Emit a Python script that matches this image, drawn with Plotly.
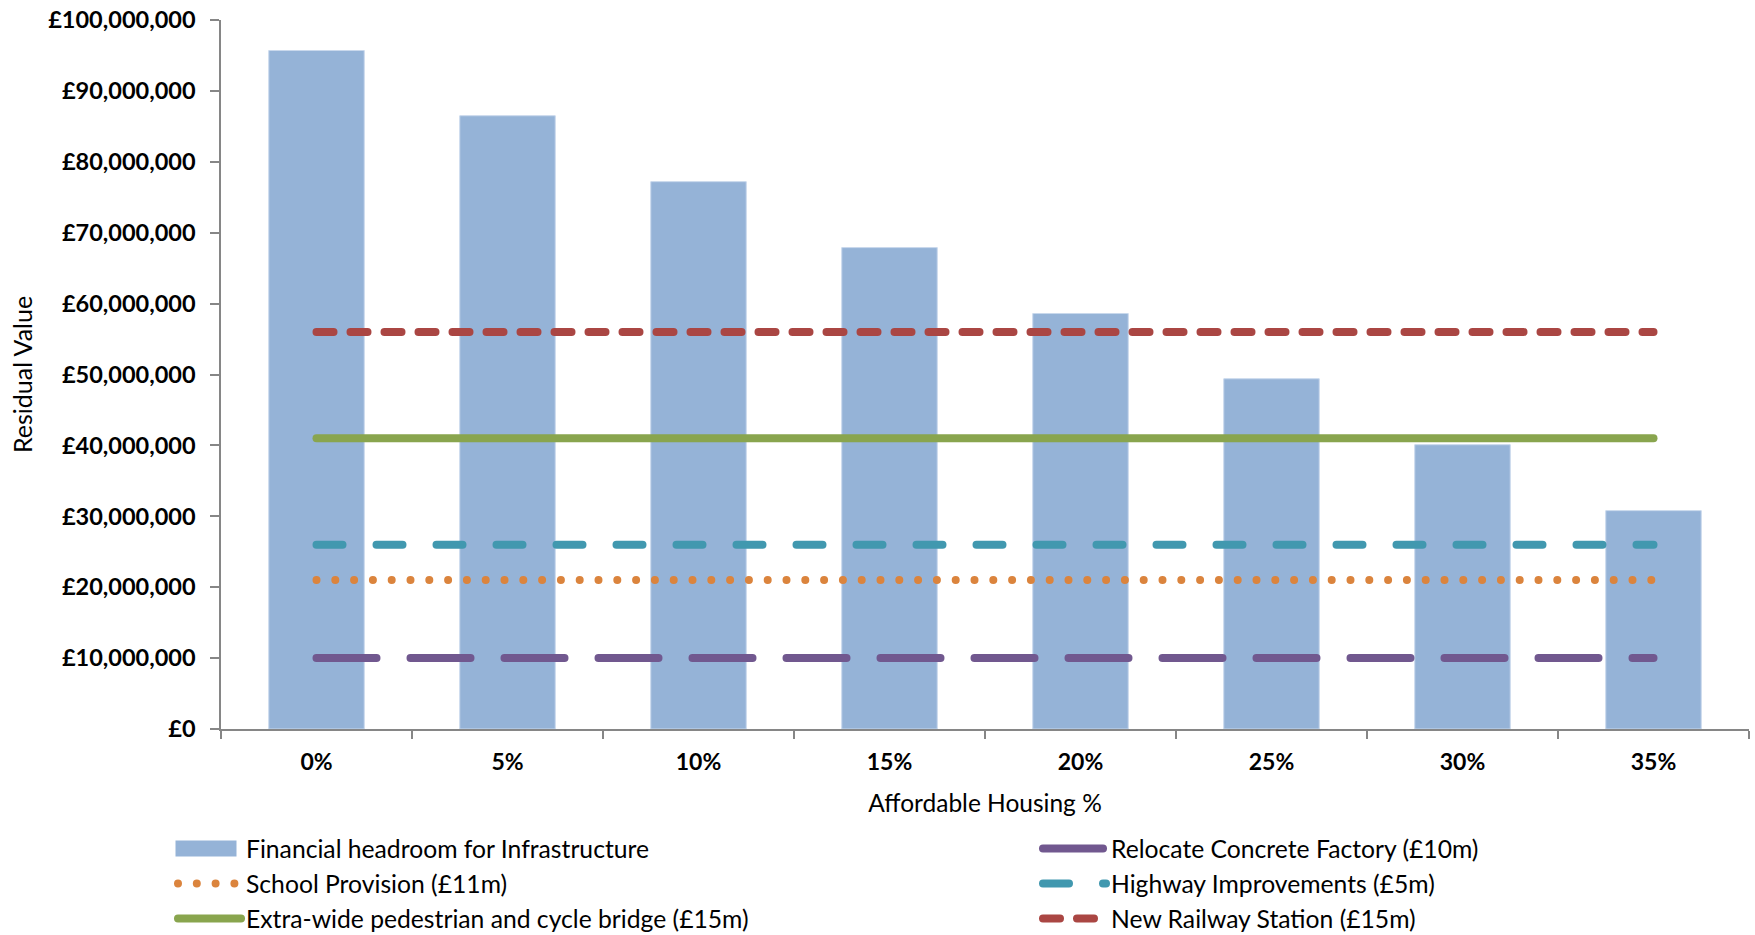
import plotly.graph_objects as go

categories = ["0%", "5%", "10%", "15%", "20%", "25%", "30%", "35%"]
headroom = [95.7e6, 86.5e6, 77.2e6, 67.9e6, 58.6e6, 49.4e6, 40.1e6, 30.8e6]
relocate = [10e6, 10e6, 10e6, 10e6, 10e6, 10e6, 10e6, 10e6]
school = [21e6, 21e6, 21e6, 21e6, 21e6, 21e6, 21e6, 21e6]
highway = [26e6, 26e6, 26e6, 26e6, 26e6, 26e6, 26e6, 26e6]
bridge = [41e6, 41e6, 41e6, 41e6, 41e6, 41e6, 41e6, 41e6]
railway = [56e6, 56e6, 56e6, 56e6, 56e6, 56e6, 56e6, 56e6]

FONT = "Lato"
LW = 8

fig = go.Figure()
fig.add_trace(go.Bar(x=categories, y=headroom, name="Financial headroom for Infrastructure",
                     marker=dict(color="#95B3D7", line=dict(color="#C9D8EC", width=1)),
                     legend="legend", showlegend=True))
fig.add_trace(go.Scatter(x=categories, y=school, mode="lines", name="School Provision (£11m)",
                         line=dict(color="#DB843D", width=LW, dash="0px,18.8px"), legend="legend2", showlegend=True))
fig.add_trace(go.Scatter(x=categories, y=bridge, mode="lines", name="Extra-wide pedestrian and cycle bridge (£15m)",
                         line=dict(color="#89A54E", width=LW), legend="legend3", showlegend=True))
fig.add_trace(go.Scatter(x=categories, y=relocate, mode="lines", name="Relocate Concrete Factory (£10m)",
                         line=dict(color="#71588F", width=LW, dash="60px,34px"), legend="legend4", showlegend=True))
fig.add_trace(go.Scatter(x=categories, y=highway, mode="lines", name="Highway Improvements (£5m)",
                         line=dict(color="#4198AF", width=LW, dash="26px,34px"), legend="legend5", showlegend=True))
fig.add_trace(go.Scatter(x=categories, y=railway, mode="lines", name="New Railway Station (£15m)",
                         line=dict(color="#AA4643", width=LW, dash="17px,17px"), legend="legend6", showlegend=True))

H_PAPER = 709.0
W_PAPER = 1528.0
def py(ypix):
    return (729.0 - ypix) / H_PAPER
def px(xpix):
    return (xpix - 221.0) / W_PAPER

leg_common = dict(orientation="v", xanchor="left", yanchor="middle", itemwidth=63,
                  font=dict(family=FONT, size=24.7, color="#000000"),
                  bgcolor="rgba(0,0,0,0)")

xl = px(173)
xr = px(1038)
fig.update_layout(
    width=1755, height=935,
    showlegend=True,
    margin=dict(l=221, r=6, t=20, b=206, autoexpand=False),
    paper_bgcolor="white", plot_bgcolor="white",
    bargap=0.5,
    font=dict(family=FONT, color="#000000"),
    legend=dict(**leg_common, x=xl, y=py(849)),
    legend2=dict(**leg_common, x=xl, y=py(884)),
    legend3=dict(**leg_common, x=xl, y=py(919)),
    legend4=dict(**leg_common, x=xr, y=py(849)),
    legend5=dict(**leg_common, x=xr, y=py(884)),
    legend6=dict(**leg_common, x=xr, y=py(919)),
    xaxis=dict(type="category", range=[-0.5, 7.5], showline=True, linecolor="#868686", linewidth=1.5,
               ticks="outside", tickson="boundaries", ticklen=8, tickcolor="#868686", tickwidth=1.5,
               showgrid=False, zeroline=False, ticklabelstandoff=12,
               tickfont=dict(family=FONT, size=23, color="#000000", weight="bold"),
               title=dict(text="Affordable Housing %", font=dict(family=FONT, size=24.5, color="#000000"), standoff=21)),
    yaxis=dict(range=[0, 1e8], dtick=1e7, tickprefix="£", tickformat=",d", showline=True,
               linecolor="#868686", linewidth=1.5, ticks="outside", ticklen=9, tickcolor="#868686", tickwidth=1.5,
               showgrid=False, zeroline=False, ticklabelstandoff=10,
               tickfont=dict(family=FONT, size=23.5, color="#000000", weight="bold"),
               title=dict(text="Residual Value", font=dict(family=FONT, size=25, color="#000000"), standoff=8)),
)

post = """
function fixLegend(){
  document.querySelectorAll('.scatterlayer path.js-line, .legend path.js-line, .legendlines path').forEach(function(p){
    p.style.strokeLinecap = 'round';
  });
  var bars = document.querySelectorAll('.legend .legendpoints path');
  bars.forEach(function(p){
    if (p.getAttribute('data-fixed')) return;
    var bb;
    try { bb = p.getBBox(); } catch(e) { return; }
    if (!bb || bb.width === 0) return;
    var cx = bb.x + bb.width/2, cy = bb.y + bb.height/2;
    var x0 = cx - 34;
    p.setAttribute('d', 'M' + x0 + ',' + (cy-8) + 'h61v16h-61Z');
    p.style.strokeWidth = '0px';
    p.setAttribute('data-fixed', '1');
  });
}
fixLegend();
var gdEl = document.getElementsByClassName('plotly-graph-div')[0];
if (gdEl && gdEl.on) { gdEl.on('plotly_afterplot', fixLegend); }
"""

fig.write_html("out.html", post_script=post)
